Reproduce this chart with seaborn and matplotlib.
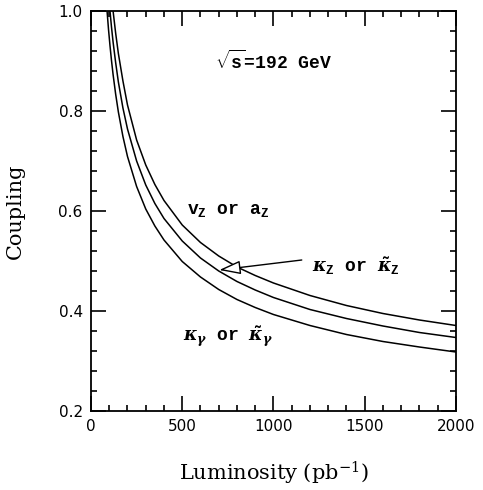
import numpy as np
import pandas as pd
import matplotlib
matplotlib.use("Agg")
import matplotlib.pyplot as plt
import seaborn as sns

# Luminosity grid (pb^-1)
lumi = [88, 96, 104, 112, 121, 135, 150, 175, 200, 250, 300, 350, 400,
        500, 600, 700, 800, 900, 1000, 1200, 1400, 1600, 1800, 2000]
# kappa_gamma (lowest curve)
kgamma = [1.000, 0.963, 0.931, 0.902, 0.873, 0.834, 0.798, 0.749, 0.709, 0.649,
          0.604, 0.570, 0.542, 0.499, 0.468, 0.443, 0.423, 0.407, 0.393, 0.371,
          0.353, 0.339, 0.328, 0.318]
# kappa_Z (middle curve)
kz = [np.nan, np.nan, 1.000, 0.969, 0.938, 0.897, 0.858, 0.806, 0.764, 0.700,
      0.652, 0.615, 0.585, 0.540, 0.506, 0.480, 0.459, 0.442, 0.427, 0.403,
      0.385, 0.370, 0.357, 0.347]
# v_Z / a_Z (upper curve)
vz = [np.nan, np.nan, np.nan, np.nan, 1.000, 0.956, 0.915, 0.860, 0.812, 0.742,
      0.692, 0.653, 0.621, 0.572, 0.537, 0.510, 0.488, 0.471, 0.456, 0.431,
      0.411, 0.395, 0.382, 0.371]

df = pd.DataFrame({
    "L": lumi * 3,
    "c": kgamma + kz + vz,
    "curve": ["kg"] * len(lumi) + ["kz"] * len(lumi) + ["vz"] * len(lumi),
}).dropna()

sns.set_theme(style="ticks")
plt.rcParams["font.family"] = ["DejaVu Sans"]
plt.rcParams["mathtext.fontset"] = "custom"
plt.rcParams["mathtext.rm"] = "Liberation Mono:bold"
plt.rcParams["mathtext.it"] = "DejaVu Serif:italic:bold"
plt.rcParams["mathtext.bf"] = "Liberation Mono:bold"

fig = plt.figure(figsize=(4.83, 4.90), dpi=100)
ax = fig.add_axes([0.1884, 0.1612, 0.944 - 0.1884, 0.9776 - 0.1612])

sns.lineplot(data=df, x="L", y="c", hue="curve", palette=["black"] * 3,
             estimator=None, sort=True, legend=False, linewidth=1.1, ax=ax)

ax.set_xlim(0, 2000)
ax.set_ylim(0.2, 1.0)
ax.set_xticks([0, 500, 1000, 1500, 2000])
ax.set_yticks([0.2, 0.4, 0.6, 0.8, 1.0])
ax.set_yticklabels(["0.2", "0.4", "0.6", "0.8", "1.0"])
ax.set_xticks(np.arange(0, 2001, 100), minor=True)
ax.set_yticks(np.arange(0.2, 1.001, 0.04), minor=True)
ax.tick_params(which="both", direction="in", top=True, right=True,
               width=1.2, color="black", labelsize=11, labelcolor="black")
ax.tick_params(which="major", length=11, pad=6)
ax.tick_params(which="minor", length=4)
for s in ax.spines.values():
    s.set_linewidth(1.3)
    s.set_color("black")
    s.set_visible(True)

ax.set_xlabel("Luminosity (pb$^{-1}$)", family="DejaVu Serif", fontsize=15,
              labelpad=18, color="black")
ax.set_ylabel("Coupling", family="DejaVu Serif", fontsize=15, labelpad=24,
              color="black")
ax.xaxis.label.set_math_fontfamily("dejavuserif")

mono = "Liberation Mono"
kw = dict(family=mono, fontsize=13, ha="center", va="center",
          fontweight="bold", color="black")
ax.text(1000, 0.899, r"$\sqrt{\mathrm{s}}$=192 GeV", **kw)
ax.text(750, 0.602, r"v$_{\rm Z}$ or a$_{\rm Z}$", **kw)
ax.text(1450, 0.49, r"$\kappa_{\rm Z}$ or $\tilde{\kappa}_{\rm Z}$", **kw)
ax.text(750, 0.348, r"$\kappa_{\gamma}$ or $\tilde{\kappa}_{\gamma}$", **kw)

ax.annotate("", xy=(703, 0.482), xytext=(1155, 0.502),
            arrowprops=dict(arrowstyle="-|>,head_length=1.1,head_width=0.35",
                            fc="white", ec="black", lw=1.0,
                            shrinkA=0, shrinkB=0, mutation_scale=12))

fig.savefig("out.png", dpi=100, facecolor="white")
